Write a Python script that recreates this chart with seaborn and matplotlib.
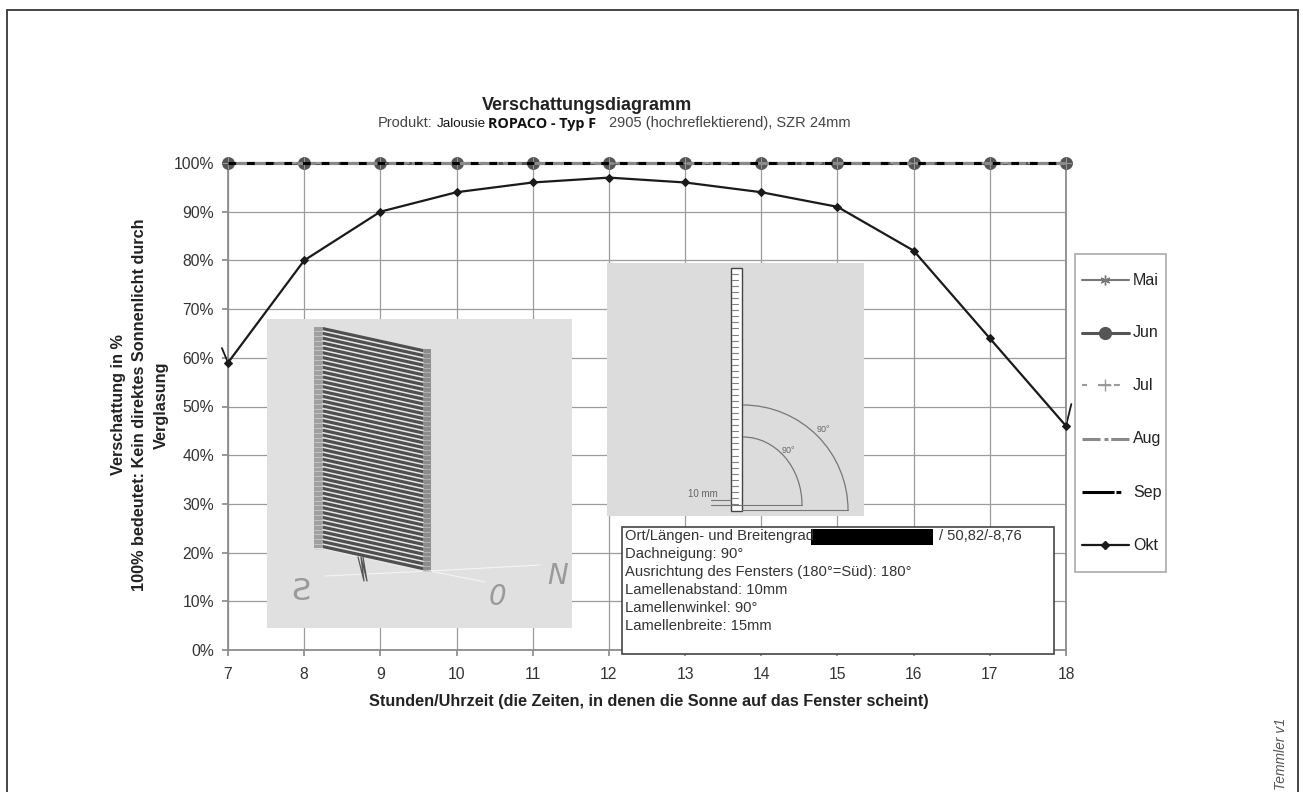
import numpy as np
import pandas as pd
import matplotlib
matplotlib.use("Agg")
import matplotlib.pyplot as plt
from matplotlib.lines import Line2D
from matplotlib.patches import Rectangle, Polygon, Arc
import seaborn as sns

hours = [7, 8, 9, 10, 11, 12, 13, 14, 15, 16, 17, 18]
mai = [100, 100, 100, 100, 100, 100, 100, 100, 100, 100, 100, 100]
jun = [100, 100, 100, 100, 100, 100, 100, 100, 100, 100, 100, 100]
jul = [100, 100, 100, 100, 100, 100, 100, 100, 100, 100, 100, 100]
aug = [100, 100, 100, 100, 100, 100, 100, 100, 100, 100, 100, 100]
sep = [100, 100, 100, 100, 100, 100, 100, 100, 100, 100, 100, 100]
okt = [59, 80, 90, 94, 96, 97, 96, 94, 91, 82, 64, 46]
months = ["Mai", "Jun", "Jul", "Aug", "Sep", "Okt"]

info_lines = ["Ort/Längen- und Breitengrad", "Dachneigung: 90°", "Ausrichtung des Fensters (180°=Süd): 180°",
              "Lamellenabstand: 10mm", "Lamellenwinkel: 90°", "Lamellenbreite: 15mm"]

W, H = 1303, 792
sns.set_theme(style="whitegrid")
plt.rcParams["font.family"] = ["Liberation Sans", "DejaVu Sans"]

df = pd.DataFrame({"hour": hours, "Mai": mai, "Jun": jun, "Jul": jul, "Aug": aug, "Sep": sep, "Okt": okt})
df = df.melt(id_vars="hour", var_name="month", value_name="value")

fig = plt.figure(figsize=(W / 100, H / 100), dpi=100, facecolor="white")
ax = fig.add_axes([228 / W, 1 - 650 / H, (1066 - 228) / W, (650 - 163) / H])


# pixel helpers for the overlays drawn in figure space
def px_rect(x0, y0, x1, y1, **kw):
    fig.add_artist(Rectangle((x0 / W, 1 - y1 / H), (x1 - x0) / W, (y1 - y0) / H, transform=fig.transFigure, **kw))


def px_line(xs, ys, **kw):
    fig.add_artist(Line2D([x / W for x in xs], [1 - y / H for y in ys], transform=fig.transFigure, **kw))


styles = {
    "Mai": dict(color="#777777", lw=1.5, ls="-", marker=(6, 2, 0), ms=7),
    "Jun": dict(color="#555555", lw=2.2, ls="-", marker="o", ms=8.5),
    "Jul": dict(color="#999999", lw=1.5, ls=(0, (3, 3)), marker="+", ms=8),
    "Aug": dict(color="#8a8a8a", lw=2.2, ls=(0, (6, 1.5)), marker=None, ms=0),
    "Sep": dict(color="#000000", lw=2.2, ls=(0, (2.5, 3.6)), marker=None, ms=0),
    "Okt": dict(color="#1a1a1a", lw=1.6, ls="-", marker="D", ms=4.5),
}
# the legend samples break up differently from the lines in the plot
legend_ls = {
    "Jul": (0, (2.4, 5.3, 6.2, 1.4, 2.9, 10)),
    "Aug": (0, (5.9, 1.3, 1.3, 0.9, 6.5, 2)),
    "Sep": (0, (10.5, 0.6, 1.6, 3.9, 1, 10)),
}
for name in months:
    st = styles[name]
    sns.lineplot(data=df[df["month"] == name], x="hour", y="value", ax=ax, color=st["color"],
                 linewidth=st["lw"], linestyle=st["ls"], marker=st["marker"], markersize=st["ms"],
                 markeredgecolor=st["color"], errorbar=None, legend=False, clip_on=False, zorder=3)

# small tails at the ends of the Okt line
ax.plot([7, 6.92], [59, 62], color="#1a1a1a", lw=1.3, clip_on=False)
ax.plot([18, 18.07], [46, 50.5], color="#1a1a1a", lw=1.3, clip_on=False)

ax.set_xlim(7, 18)
ax.set_ylim(0, 100)
ax.set_xticks(hours)
ax.set_yticks(range(0, 101, 10))
ax.set_yticklabels([f"{v}%" for v in range(0, 101, 10)])
ax.grid(True, color="#9c9c9c", lw=0.9)
ax.set_axisbelow(True)
for s in ax.spines.values():
    s.set_color("#8c8c8c")
    s.set_linewidth(1.3)
ax.tick_params(axis="both", labelsize=11.3, labelcolor="#333333", length=4, color="#8c8c8c", bottom=True, left=True)
ax.tick_params(axis="x", pad=8)
ax.tick_params(axis="y", pad=6)
ax.set_xlabel("Stunden/Uhrzeit (die Zeiten, in denen die Sonne auf das Fenster scheint)", fontsize=11.7,
              fontweight="bold", color="#222222", labelpad=9, x=0.502)
ax.set_ylabel("")

# outer frame, sheet border
fig.add_artist(Rectangle((7 / W, -0.01), (1298 - 7) / W, (H - 10) / H + 0.01, transform=fig.transFigure, fill=False,
                         ec="#444444", lw=1.4))

# titles
fig.text(587 / W, 1 - 105 / H, "Verschattungsdiagramm", fontsize=13, fontweight="bold", ha="center", va="center", color="#222222")
fig.text(378 / W, 1 - 123 / H, "Produkt:", fontsize=10.5, va="center", color="#444444")
fig.text(437 / W, 1 - 124 / H, "Jalousie", fontsize=9.6, va="center", color="#111111")
fig.text(488 / W, 1 - 124 / H, "ROPACO - Typ F", fontsize=10.4, fontweight="bold", family="Open Sans", va="center", color="#111111")
fig.text(609 / W, 1 - 123 / H, "2905 (hochreflektierend), SZR 24mm", fontsize=10.5, va="center", color="#444444")

# y label, three lines
for x, txt in [(118, "Verschattung in %"), (140, "100% bedeutet: Kein direktes Sonnenlicht durch"), (161, "Verglasung")]:
    fig.text(x / W, 1 - 405 / H, txt, rotation=90, fontsize=11.7, fontweight="bold", ha="center", va="center", color="#222222")

# left picture: slat stack
px_rect(267, 319, 572, 628, fc="#e0e0e0", ec="none", zorder=5)
fig.add_artist(Polygon([(314 / W, 1 - 327 / H), (323 / W, 1 - 327 / H), (323 / W, 1 - 548 / H), (314 / W, 1 - 548 / H)],
                       transform=fig.transFigure, fc="#a0a0a0", ec="none", zorder=6))
fig.add_artist(Polygon([(423 / W, 1 - 349 / H), (431 / W, 1 - 349 / H), (431 / W, 1 - 571 / H), (423 / W, 1 - 571 / H)],
                       transform=fig.transFigure, fc="#8c8c8c", ec="none", zorder=6))
fig.add_artist(Polygon([(323 / W, 1 - 327 / H), (423 / W, 1 - 349 / H), (423 / W, 1 - 571 / H), (323 / W, 1 - 549 / H)],
                       transform=fig.transFigure, fc="#4f4f4f", ec="none", zorder=6))
for t in np.linspace(0, 1, 46):
    y_l = 329 + t * 218
    y_r = 351 + t * 218
    px_line([323, 423], [y_l + 2, y_r + 2], color="#e8e8e8", lw=1.1, zorder=7)
    px_line([314, 323], [y_l + 2, y_l + 2], color="#d0d0d0", lw=0.5, zorder=7)
    px_line([423, 431], [y_r + 2, y_r + 2], color="#c0c0c0", lw=0.5, zorder=7)
px_line([325, 430, 540], [576, 571, 565], color="#f4f4f4", lw=0.8, zorder=6)
px_line([430, 485], [571, 582], color="#f4f4f4", lw=0.8, zorder=6)
px_line([358, 364, 361, 367, 363], [557, 581, 557, 581, 557], color="#555555", lw=0.9, zorder=7)
for lx, ly, ch, fs in [(301, 591, "Ƨ", 22), (497, 597, "0", 20), (558, 576, "N", 20)]:
    fig.text(lx / W, 1 - ly / H, ch, fontsize=fs, style="italic" if ch != "Ƨ" else "normal", color="#9a9a9a",
             family=["Liberation Sans Narrow", "DejaVu Sans"], ha="center", va="center", zorder=7)

# right picture: section
px_rect(607, 263, 864, 516, fc="#dcdcdc", ec="none", zorder=5)
px_rect(731, 268, 742, 511, fc="white", ec="#444444", lw=1, zorder=6)
for y in np.arange(274, 508, 6.05):
    px_line([732, 738], [y, y], color="#808080", lw=0.8, zorder=7)
ax_over = fig.add_axes([0, 0, 1, 1], facecolor="none", zorder=9)
ax_over.set_xlim(0, W)
ax_over.set_ylim(H, 0)
ax_over.axis("off")
ax_over.add_patch(Arc((743, 510), 2 * 105, 2 * 105, theta1=270, theta2=360, color="#777777", lw=0.9))
ax_over.add_patch(Arc((743, 505), 2 * 59, 2 * 68, theta1=270, theta2=360, color="#777777", lw=0.9))
px_line([742, 848], [510, 510], color="#777777", lw=0.8, zorder=7)
px_line([711, 802], [505, 505], color="#777777", lw=0.8, zorder=7)
px_line([711, 731], [500, 500], color="#777777", lw=0.8, zorder=7)
fig.text(703 / W, 1 - 494 / H, "10 mm", fontsize=7, color="#666666", ha="center", va="center", zorder=8)
fig.text(788 / W, 1 - 450 / H, "90°", fontsize=6.5, color="#666666", ha="center", va="center", zorder=8)
fig.text(823 / W, 1 - 430 / H, "90°", fontsize=6.5, color="#666666", ha="center", va="center", zorder=8)

# info box
px_rect(622, 527, 1054, 654, fc="white", ec="#444444", lw=1.2, zorder=5)
for i, line in enumerate(info_lines):
    fig.text(625 / W, 1 - (536 + i * 18) / H, line, fontsize=10.6, color="#333333", va="center", zorder=8)
px_rect(811, 529, 933, 545, fc="black", ec="none", zorder=8)
fig.text(939 / W, 1 - 536 / H, "/ 50,82/-8,76", fontsize=10.6, color="#333333", va="center", zorder=8)

# legend box
px_rect(1075, 254, 1166, 572, fc="white", ec="#aaaaaa", lw=1.2, zorder=5)
legend_y = [280, 333, 385, 439, 492, 545]
for name, y in zip(months, legend_y):
    st = styles[name]
    fig.add_artist(Line2D([1082 / W, 1129 / W], [1 - y / H] * 2, transform=fig.transFigure, color=st["color"], lw=st["lw"],
                          ls=legend_ls.get(name, st["ls"]), zorder=6))
    if st["marker"]:
        fig.add_artist(Line2D([1105 / W], [1 - y / H], transform=fig.transFigure, color=st["color"], marker=st["marker"],
                              ms=st["ms"], zorder=7))
    fig.text(1133 / W, 1 - y / H, name, fontsize=11.5, color="#222222", va="center", zorder=8)

fig.text(1281 / W, 1 - 754 / H, "Temmler v1", rotation=90, style="italic", fontsize=10, color="#555555", ha="center", va="center")

fig.savefig("out.png", dpi=100)
